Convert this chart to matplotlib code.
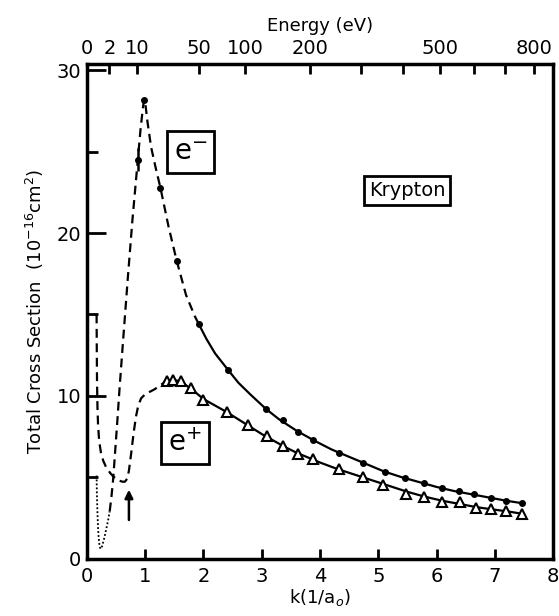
import numpy as np
import matplotlib
matplotlib.use("Agg")
import matplotlib.pyplot as plt

# electron (e-) measured points
ele_k = [0.98, 1.26, 1.54, 1.92, 2.42, 3.07, 3.36, 3.62, 3.88, 4.33, 4.74, 5.12,
         5.46, 5.79, 6.10, 6.39, 6.65, 6.94, 7.20, 7.47]
ele_s = [28.2, 22.8, 18.3, 14.4, 11.6, 9.2, 8.5, 7.8, 7.3, 6.5, 5.85, 5.3,
         4.95, 4.65, 4.35, 4.15, 3.95, 3.75, 3.55, 3.4]
# point with error bar
ele_err_k = [0.88]
ele_err_s = [24.5]
ele_err = [0.7]

# positron (e+) measured points
pos_k = [1.38, 1.48, 1.62, 1.78, 1.99, 2.40, 2.77, 3.09, 3.37, 3.62, 3.88, 4.33,
         4.74, 5.08, 5.47, 5.78, 6.10, 6.40, 6.68, 6.94, 7.19, 7.47]
pos_s = [10.9, 11.0, 10.9, 10.5, 9.75, 9.0, 8.2, 7.5, 6.9, 6.4, 6.1, 5.5,
         5.0, 4.5, 3.95, 3.8, 3.45, 3.5, 3.1, 3.05, 2.9, 2.75]

# e- curve: dotted (Ramsauer minimum), dashed and solid parts
ele_dot_k = [0.165, 0.17, 0.18, 0.19, 0.20, 0.215, 0.23, 0.25, 0.27, 0.30,
             0.33, 0.36, 0.39]
ele_dot_s = [5.1, 4.0, 2.8, 1.9, 1.3, 0.8, 0.6, 0.65, 0.9, 1.3,
             1.8, 2.3, 2.9]
ele_dash_k = [0.39, 0.42, 0.45, 0.48, 0.52, 0.56, 0.62, 0.70, 0.78, 0.86, 0.92,
              0.96, 0.98, 1.00, 1.04, 1.10, 1.18, 1.26, 1.40, 1.54, 1.70, 1.85,
              1.92]
ele_dash_s = [2.9, 3.8, 4.9, 6.4, 8.4, 10.5, 13.4, 17.2, 20.8, 24.0, 26.4,
              27.7, 28.2, 28.0, 26.8, 25.3, 24.0, 22.8, 20.4, 18.3, 16.2, 14.9,
              14.4]
ele_line_k = [1.92, 2.05, 2.20, 2.42, 2.60, 2.80, 3.07, 3.30, 3.60, 3.90, 4.20,
              4.50, 4.80, 5.10, 5.40, 5.70, 6.00, 6.30, 6.60, 6.90, 7.20, 7.47]
ele_line_s = [14.4, 13.5, 12.6, 11.6, 10.8, 10.1, 9.2, 8.55, 7.85, 7.25, 6.7,
              6.25, 5.8, 5.35, 5.0, 4.7, 4.4, 4.15, 3.95, 3.75, 3.55, 3.4]

# e+ curve: dashed and solid parts
pos_dash_k = [0.165, 0.168, 0.172, 0.18, 0.19, 0.21, 0.24, 0.28, 0.33, 0.40,
              0.45, 0.50, 0.56, 0.61, 0.65, 0.69, 0.72, 0.76, 0.80, 0.84, 0.88,
              0.93, 1.00, 1.08, 1.16, 1.24, 1.30, 1.35]
pos_dash_s = [15.0, 13.0, 11.0, 9.3, 8.2, 7.2, 6.5, 6.0, 5.6, 5.25,
              5.05, 4.9, 4.78, 4.72, 4.72, 4.9, 5.4, 6.5, 7.7, 8.7, 9.4,
              9.85, 10.1, 10.25, 10.4, 10.6, 10.75, 10.9]
pos_line_k = [1.35, 1.48, 1.62, 1.80, 2.00, 2.20, 2.40, 2.60, 2.80, 3.00, 3.20,
              3.40, 3.60, 3.80, 4.00, 4.30, 4.60, 4.90, 5.20, 5.50, 5.80, 6.10,
              6.40, 6.70, 7.00, 7.25, 7.47]
pos_line_s = [10.9, 11.0, 10.85, 10.4, 9.8, 9.4, 9.0, 8.55, 8.1, 7.65, 7.25,
              6.85, 6.5, 6.2, 5.9, 5.5, 5.15, 4.8, 4.45, 4.1, 3.8, 3.55,
              3.35, 3.15, 3.0, 2.88, 2.75]

# energy axis (eV), E = 13.6 k^2
energy_major = [0, 2, 10, 50, 100, 200, 500, 800]
energy_minor = [300, 400, 600, 700]

plt.rcParams["font.family"] = ["DejaVu Sans"]

fig = plt.figure(figsize=(5.59, 6.16), dpi=100)
ax = fig.add_axes([0.1556, 0.0933, 0.8337, 0.803])

dash = (0, (4, 2.5))
ax.plot(ele_dot_k, ele_dot_s, color="black", lw=1.3, linestyle=(0, (1, 1.2)))
ax.plot(ele_dash_k, ele_dash_s, color="black", lw=1.6, linestyle=dash)
ax.plot(ele_line_k, ele_line_s, color="black", lw=1.6)
ax.plot(ele_k, ele_s, "o", color="black", ms=4)
ax.errorbar(ele_err_k, ele_err_s, yerr=ele_err, fmt="o", color="black",
            ms=4, elinewidth=1.8, capsize=0)

ax.plot(pos_dash_k, pos_dash_s, color="black", lw=1.6, linestyle=dash)
ax.plot(pos_line_k, pos_line_s, color="black", lw=1.6)
ax.plot(pos_k, pos_s, "^", color="black", mfc="white", mew=1.5, ms=7)

# arrow marking the positronium threshold
ax.annotate("", xy=(0.72, 4.4), xytext=(0.72, 2.2),
            arrowprops=dict(arrowstyle="-|>", color="black", lw=1.8,
                            mutation_scale=12))

box = dict(boxstyle="square,pad=0.25", fc="white", ec="black", lw=2)
ax.text(1.78, 25.0, r"e$^{-}$", fontsize=20, ha="center", va="center", bbox=box)
ax.text(1.68, 7.1, r"e$^{+}$", fontsize=20, ha="center", va="center", bbox=box)
ax.text(5.5, 22.6, "Krypton", fontsize=14, ha="center", va="center", bbox=box)

ax.set_xlim(0, 8)
ax.set_ylim(0, 30.4)
ax.set_xticks(range(0, 9))
ax.set_yticks([0, 10, 20, 30])
ax.set_yticks([5, 15, 25], minor=True)
ax.tick_params(axis="x", direction="in", length=7, width=2, labelsize=14, pad=6)
ax.tick_params(axis="y", which="major", direction="in", length=14, width=2,
               labelsize=14, pad=4)
ax.tick_params(axis="y", which="minor", direction="in", length=8, width=2)
for s in ax.spines.values():
    s.set_linewidth(2.5)

ax.set_xlabel(r"k(1/a$_o$)", fontsize=13, labelpad=1)
ax.set_ylabel(r"Total Cross Section  (10$^{-16}$cm$^2$)", fontsize=13,
              labelpad=8)

top = ax.secondary_xaxis("top", functions=(lambda k: 13.6 * np.asarray(k) ** 2,
                                           lambda e: np.sqrt(np.clip(e, 0, None) / 13.6)))
top.set_xticks(energy_major)
top.set_xticks(energy_minor, minor=True)
top.set_xticklabels([str(e) for e in energy_major])
top.tick_params(which="both", direction="in", length=7, width=2, labelsize=14, pad=4)
top.set_xlabel("Energy (eV)", fontsize=13, labelpad=6)

fig.savefig("out.png", dpi=100)
